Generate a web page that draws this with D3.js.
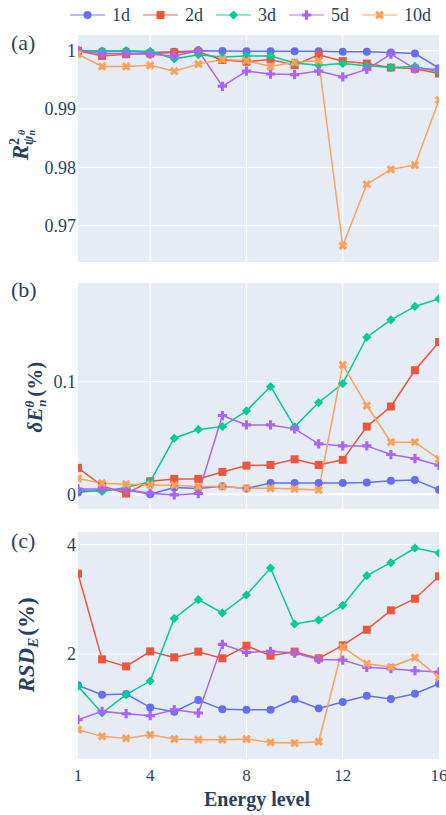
<!DOCTYPE html>
<html lang="en">
<head>
<meta charset="UTF-8">
<script src="https://cdn.jsdelivr.net/npm/d3@7/dist/d3.min.js"></script>
<title>Energy level metrics</title>
<style>
    body { margin: 0; background: #fff; }
    #chart text { font-family: "Liberation Serif", "Times New Roman", "DejaVu Serif", serif; }
</style>
</head>
<body>
<svg id="chart"></svg>
<script>
    const levels = [1, 2, 3, 4, 5, 6, 7, 8, 9, 10, 11, 12, 13, 14, 15, 16];
    const seriesNames = ["1d", "2d", "3d", "5d", "10d"];
    const colors = ["#636efa", "#EF553B", "#00cc96", "#ab63fa", "#FFA15A"];

    // (a) R^2
    const r2_1d = [1.0000, 0.9999, 0.9999, 0.9997, 0.9998, 1.0000, 0.99995, 0.9999, 0.9999, 0.9999, 0.9999, 0.9998, 0.9998, 0.9997, 0.9995, 0.9970];
    const r2_2d = [1.0000, 0.9991, 0.9994, 0.9995, 0.9997, 0.9998, 0.9984, 0.9981, 0.9985, 0.9975, 0.9993, 0.9982, 0.9978, 0.9971, 0.9969, 0.9961];
    const r2_3d = [1.0000, 0.99995, 1.0000, 0.9999, 0.9986, 0.9993, 0.9989, 0.9991, 0.9991, 0.9979, 0.9975, 0.9978, 0.9974, 0.9971, 0.9973, 0.9964];
    const r2_5d = [1.0000, 0.9995, 0.9995, 0.9994, 0.9991, 1.0000, 0.9939, 0.9965, 0.9960, 0.9959, 0.9965, 0.9955, 0.9968, 0.9994, 0.9969, 0.9968];
    const r2_10d = [0.9994, 0.9973, 0.9973, 0.9975, 0.9965, 0.9977, 0.9985, 0.9983, 0.9973, 0.9980, 0.9983, 0.96657, 0.97709, 0.97966, 0.9804, 0.99154];

    // (b) delta E (%)
    const de_1d = [0.0015, 0.004, 0.004, 0.0, 0.006, 0.005, 0.007, 0.005, 0.010, 0.010, 0.010, 0.010, 0.0104, 0.012, 0.0127, 0.004];
    const de_2d = [0.0234, 0.0074, 0.0006, 0.0115, 0.0136, 0.0136, 0.0198, 0.0254, 0.026, 0.031, 0.026, 0.0305, 0.060, 0.0778, 0.110, 0.135];
    const de_3d = [0.004, 0.0024, 0.006, 0.0112, 0.0497, 0.0574, 0.060, 0.074, 0.0956, 0.0598, 0.0814, 0.0982, 0.1393, 0.1547, 0.1666, 0.1734];
    const de_5d = [0.0047, 0.0047, 0.004, 0.0009, -0.0006, 0.0006, 0.0698, 0.0615, 0.0615, 0.058, 0.0447, 0.0429, 0.0429, 0.0352, 0.0317, 0.0257];
    const de_10d = [0.0139, 0.0098, 0.0089, 0.0083, 0.008, 0.0068, 0.0068, 0.0053, 0.0053, 0.0047, 0.0038, 0.1148, 0.0787, 0.0462, 0.0462, 0.0311];

    // (c) RSD_E (%)
    const rsd_1d = [1.427, 1.256, 1.268, 1.024, 0.945, 1.159, 0.988, 0.982, 0.982, 1.171, 1.006, 1.122, 1.238, 1.177, 1.274, 1.457];
    const rsd_2d = [3.470, 1.902, 1.774, 2.049, 1.939, 2.043, 1.921, 2.152, 1.970, 2.043, 1.921, 2.159, 2.445, 2.799, 3.012, 3.421];
    const rsd_3d = [1.409, 0.921, 1.256, 1.506, 2.652, 2.994, 2.75, 3.079, 3.573, 2.549, 2.622, 2.89, 3.433, 3.671, 3.939, 3.848];
    const rsd_5d = [0.799, 0.951, 0.909, 0.872, 0.982, 0.921, 2.177, 2.030, 2.049, 2.018, 1.902, 1.89, 1.756, 1.732, 1.695, 1.671];
    const rsd_10d = [0.616, 0.494, 0.457, 0.524, 0.445, 0.433, 0.433, 0.445, 0.384, 0.372, 0.396, 2.128, 1.823, 1.762, 1.933, 1.573];

    const xTicks = [1, 4, 8, 12, 16];

    const W = 446, H = 815;
    const fontColor = "#2a3f5f";
    const serif = "'Liberation Serif', 'Times New Roman', 'DejaVu Serif', serif";
    const svg = d3.select("#chart")
        .attr("width", W).attr("height", H)
        .attr("font-family", serif);

    const x = d3.scaleLinear().domain([1, 16]).range([78, 439]);

    const symbols = [
        {type: d3.symbolCircle, size: 50, rot: 0},
        {type: d3.symbolSquare, size: 64, rot: 0},
        {type: d3.symbolSquare, size: 42, rot: 45},
        {type: d3.symbolCross, size: 48, rot: 0},
        {type: d3.symbolCross, size: 48, rot: 45}
    ];

    const panels = [
        {id: "a", label: "(a)", top: 35, bottom: 262, domain: [0.96378, 1.00269], ticks: [0.97, 0.98, 0.99, 1],
            series: [r2_1d, r2_2d, r2_3d, r2_5d, r2_10d], labelY: 42},
        {id: "b", label: "(b)", top: 283, bottom: 509, domain: [-0.0131, 0.1874], ticks: [0, 0.1],
            series: [de_1d, de_2d, de_3d, de_5d, de_10d], labelY: 289},
        {id: "c", label: "(c)", top: 532, bottom: 759, domain: [0.08, 4.232], ticks: [2, 4],
            series: [rsd_1d, rsd_2d, rsd_3d, rsd_5d, rsd_10d], labelY: 540}
    ];

    const defs = svg.append("defs");

    panels.forEach((p, pi) => {
        const y = d3.scaleLinear().domain(p.domain).range([p.bottom, p.top]);
        const g = svg.append("g");

        g.append("rect")
            .attr("x", x.range()[0]).attr("y", p.top)
            .attr("width", x.range()[1] - x.range()[0]).attr("height", p.bottom - p.top)
            .attr("fill", "#E5ECF6");

        defs.append("clipPath").attr("id", `clip-${p.id}`)
            .append("rect")
            .attr("x", x.range()[0]).attr("y", p.top)
            .attr("width", x.range()[1] - x.range()[0]).attr("height", p.bottom - p.top);

        // grid
        g.append("g").selectAll("line")
            .data(xTicks.filter(t => t > 1 && t < 16))
            .join("line")
            .attr("x1", d => x(d)).attr("x2", d => x(d))
            .attr("y1", p.top).attr("y2", p.bottom)
            .attr("stroke", "#fff").attr("stroke-width", 1);

        g.append("g").selectAll("line")
            .data(p.ticks)
            .join("line")
            .attr("x1", x.range()[0]).attr("x2", x.range()[1])
            .attr("y1", d => y(d)).attr("y2", d => y(d))
            .attr("stroke", "#fff").attr("stroke-width", d => d === 0 ? 2 : 1);

        // y tick labels
        g.append("g").selectAll("text")
            .data(p.ticks)
            .join("text")
            .attr("x", 76).attr("y", d => y(d))
            .attr("dy", "0.35em")
            .attr("text-anchor", "end")
            .attr("font-size", 18)
            .attr("fill", fontColor)
            .text(d => String(d));

        // panel label
        g.append("text")
            .attr("x", 11).attr("y", p.labelY)
            .attr("dy", "0.35em")
            .attr("font-size", 22)
            .attr("fill", fontColor)
            .text(p.label);

        const plot = g.append("g").attr("clip-path", `url(#clip-${p.id})`);
        const line = d3.line().x((d, i) => x(levels[i])).y(d => y(d));

        p.series.forEach((vals, si) => {
            plot.append("path")
                .attr("d", line(vals))
                .attr("fill", "none")
                .attr("stroke", colors[si])
                .attr("stroke-width", 1.5);
        });
        p.series.forEach((vals, si) => {
            const sym = symbols[si];
            plot.append("g").selectAll("path")
                .data(vals)
                .join("path")
                .attr("d", d3.symbol(sym.type, sym.size))
                .attr("transform", (d, i) => `translate(${x(levels[i])},${y(d)}) rotate(${sym.rot})`)
                .attr("fill", colors[si]);
        });

        if (pi === panels.length - 1) {
            svg.append("g").selectAll("text")
                .data(xTicks)
                .join("text")
                .attr("x", d => x(d)).attr("y", 781)
                .attr("text-anchor", "middle")
                .attr("font-size", 17)
                .attr("fill", fontColor)
                .text(d => d);
        }
    });

    // y-axis titles (math)
    function yTitle(cx, cy, build) {
        const t = svg.append("g")
            .attr("transform", `translate(${cx},${cy}) rotate(-90)`)
            .append("text")
            .attr("text-anchor", "middle")
            .attr("font-weight", "bold")
            .attr("fill", fontColor);
        build(t);
    }

    yTitle(28, 145, t => {
        t.append("tspan").attr("font-size", 23).attr("font-style", "italic").text("R");
        t.append("tspan").attr("font-size", 14).attr("dy", -9).text("2");
        t.append("tspan").attr("font-size", 14).attr("font-style", "italic").attr("dx", -7).attr("dy", 14).text("ψ");
        t.append("tspan").attr("font-size", 10).attr("font-style", "italic").attr("dy", 2).text("n");
        t.append("tspan").attr("font-size", 10).attr("font-style", "italic").attr("dx", -5).attr("dy", -10).text("θ");
    });

    yTitle(42, 397, t => {
        t.append("tspan").attr("font-size", 21).attr("font-style", "italic").text("δE");
        t.append("tspan").attr("font-size", 13).attr("font-style", "italic").attr("dy", -8).text("θ");
        t.append("tspan").attr("font-size", 13).attr("font-style", "italic").attr("dx", -6).attr("dy", 12).text("n");
        t.append("tspan").attr("font-size", 21).attr("dx", 3).attr("dy", -4).text("(%)");
    });

    yTitle(34, 645, t => {
        t.append("tspan").attr("font-size", 23).attr("font-style", "italic").text("RSD");
        t.append("tspan").attr("font-size", 15).attr("font-style", "italic").attr("dy", 4).text("E");
        t.append("tspan").attr("font-size", 23).attr("dx", 2).attr("dy", -4).text("(%)");
    });

    // x-axis title
    svg.append("text")
        .attr("x", 257).attr("y", 806)
        .attr("text-anchor", "middle")
        .attr("font-size", 20)
        .attr("font-weight", "bold")
        .attr("fill", fontColor)
        .text("Energy level");

    // legend
    const legendX = [70, 143, 216, 289, 362];
    const legend = svg.append("g");
    seriesNames.forEach((name, i) => {
        const lg = legend.append("g").attr("transform", `translate(${legendX[i]},15)`);
        lg.append("line")
            .attr("x1", 0).attr("x2", 35).attr("y1", 0).attr("y2", 0)
            .attr("stroke", colors[i]).attr("stroke-width", 1.5).attr("opacity", 0.6);
        lg.append("path")
            .attr("d", d3.symbol(symbols[i].type, symbols[i].size))
            .attr("transform", `translate(17.5,0) rotate(${symbols[i].rot})`)
            .attr("fill", colors[i]);
        lg.append("text")
            .attr("x", 42).attr("y", 0).attr("dy", "0.35em")
            .attr("font-size", 18)
            .attr("fill", fontColor)
            .text(name);
    });
</script>
</body>
</html>
